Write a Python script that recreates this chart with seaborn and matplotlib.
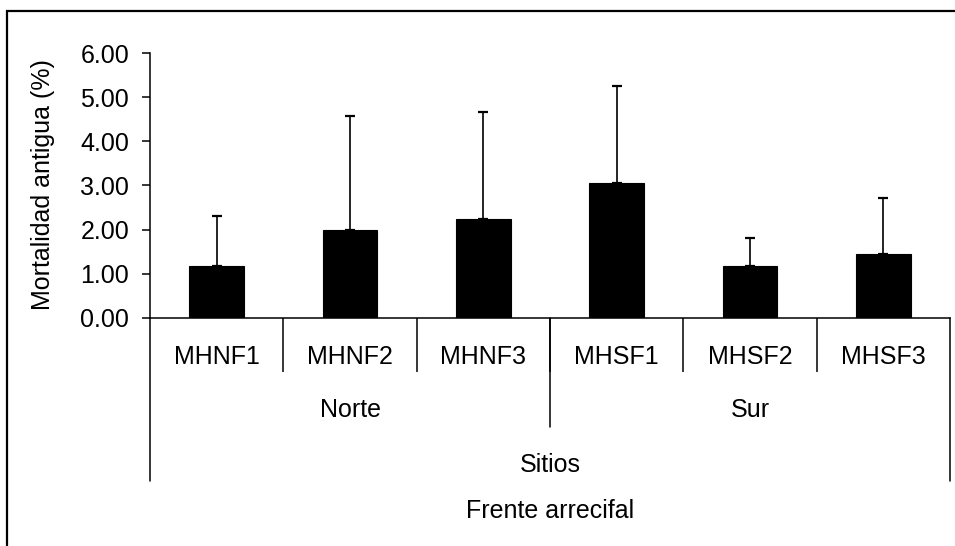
import matplotlib
matplotlib.use("Agg")
import matplotlib.pyplot as plt
import matplotlib.patches as mpatches
from matplotlib.ticker import FixedLocator, FormatStrFormatter
import seaborn as sns
import pandas as pd
import numpy as np

# ---- data ----
sites = ["MHNF1", "MHNF2", "MHNF3", "MHSF1", "MHSF2", "MHSF3"]
mortality = [1.18, 2.00, 2.23, 3.05, 1.18, 1.45]
error_up = [1.13, 2.58, 2.44, 2.21, 0.63, 1.27]
zones = ["Norte", "Sur"]
zone_centers = [1, 4]
level2_label = "Sitios"
level3_label = "Frente arrecifal"
ylabel = "Mortalidad antigua (%)"
yticks = [0, 1, 2, 3, 4, 5, 6]

df = pd.DataFrame({"site": sites, "value": mortality})

sns.set_theme(style="white")
plt.rcParams["font.family"] = ["Liberation Sans", "DejaVu Sans"]
FS = 18

fig = plt.figure(figsize=(9.55, 5.46), dpi=100)
W, H = 955, 546
ax_left, ax_right, ax_top, ax_bottom = 150, 950, 53.3, 317.7
ax = fig.add_axes([ax_left / W, 1 - ax_bottom / H,
                   (ax_right - ax_left) / W, (ax_bottom - ax_top) / H])

sns.barplot(data=df, x="site", y="value", order=sites, color="black",
            width=0.41, errorbar=None, ax=ax, saturation=1,
            edgecolor="black", linewidth=0.8)
ax.errorbar(np.arange(len(sites)), mortality,
            yerr=[np.zeros(len(sites)), error_up], fmt="none",
            ecolor="black", elinewidth=1.2, capsize=3.6, capthick=1.6,
            zorder=1)

ax.set_xlim(-0.5, len(sites) - 0.5)
ax.set_ylim(0, 6)
ax.yaxis.set_major_locator(FixedLocator(yticks))
ax.yaxis.set_major_formatter(FormatStrFormatter("%.2f"))
ax.tick_params(axis="y", direction="out", length=6, width=1.1,
               labelsize=FS, pad=9, colors="black", left=True)
for s in ["top", "right"]:
    ax.spines[s].set_visible(False)
for s in ["left", "bottom"]:
    ax.spines[s].set_color("black")
    ax.spines[s].set_linewidth(1.1)

# x axis: category labels, boundaries as minor ticks
ax.set_xticks(range(len(sites)))
ax.set_xticklabels([])
ax.set_xticks(np.arange(0.5, len(sites) - 0.5, 1.0), minor=True)
ax.tick_params(axis="x", which="major", length=0)
ax.tick_params(axis="x", which="minor", direction="out", length=39,
               width=1.1, color="black", bottom=True)
ax.set_xlabel("")
ax.set_ylabel("")

axh = ax_bottom - ax_top
def fy(py):
    return (ax_bottom - py) / axh

tr = ax.get_xaxis_transform()
for i, s in enumerate(sites):
    ax.text(i, fy(356.7), s, transform=tr, ha="center", va="center",
            fontsize=FS, color="black")
for c, z in zip(zone_centers, zones):
    ax.text(c, fy(410), z, transform=tr, ha="center", va="center",
            fontsize=FS, color="black")
mid = (len(sites) - 1) / 2
ax.text(mid, fy(465), level2_label, transform=tr, ha="center", va="center",
        fontsize=FS, color="black")
ax.text(mid, fy(511), level3_label, transform=tr, ha="center", va="center",
        fontsize=FS, color="black")

# group separator lines
ax.plot([2.5, 2.5], [0, fy(427)], transform=tr, color="black", lw=1.1,
        clip_on=False)
for xe in [-0.5, len(sites) - 0.5]:
    ax.plot([xe, xe], [0, fy(481)], transform=tr, color="black", lw=1.1,
            clip_on=False)

fig.text(43 / W, 1 - 185 / H, ylabel, rotation=90, ha="center", va="center",
         fontsize=FS, color="black")

# outer frame (left and top visible)
fig.patches.append(mpatches.Rectangle((7 / W, -0.2), 2.0, 0.2 + 1 - 11 / H,
                                      transform=fig.transFigure, fill=False,
                                      edgecolor="black", linewidth=1.6))

fig.savefig("out.png", dpi=100)
